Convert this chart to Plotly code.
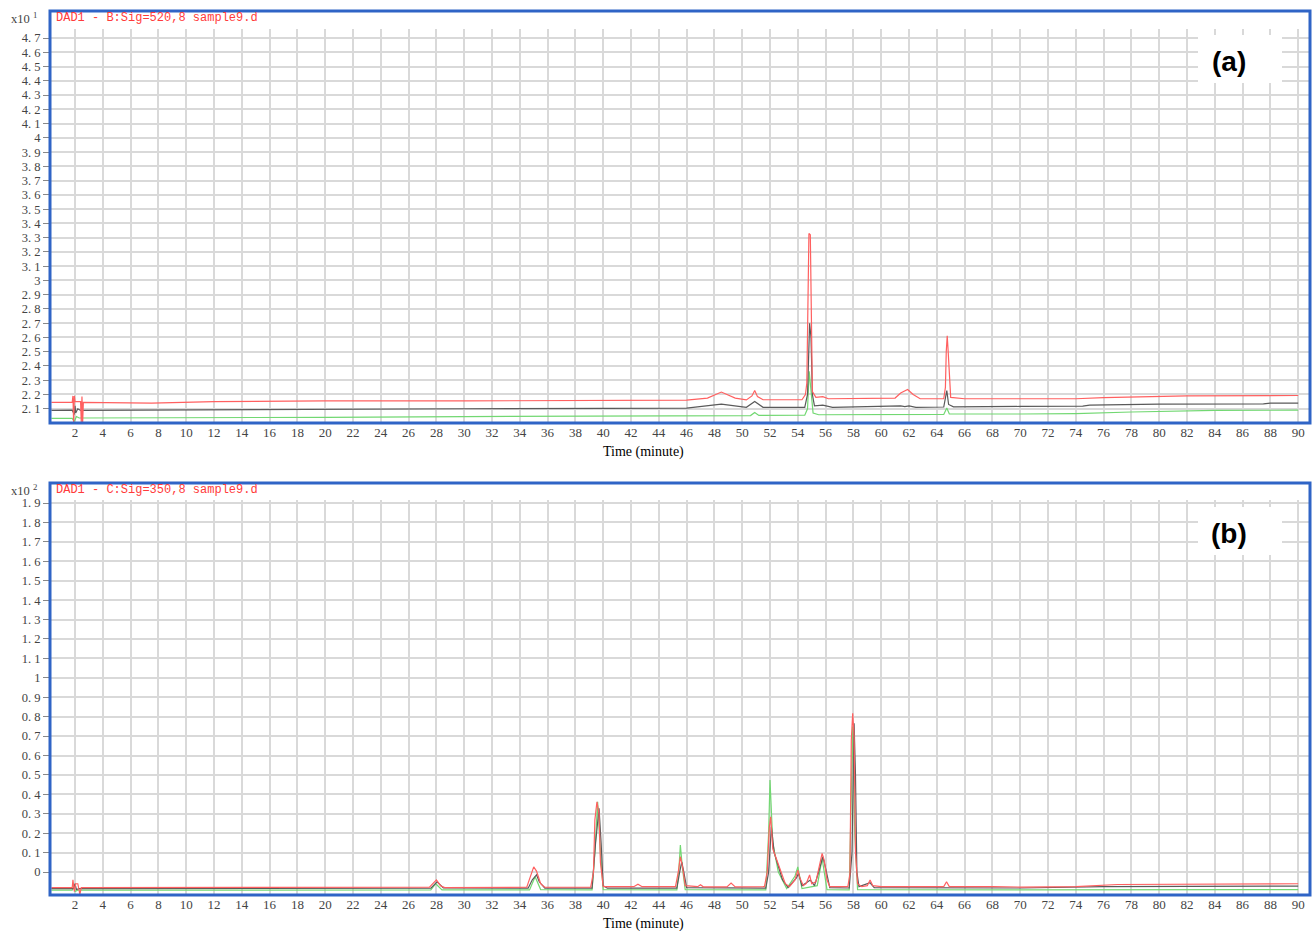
import plotly.graph_objects as go

# ---------------- Panel (a): DAD1 - B:Sig=520,8  (x10^1) ----------------
a_red_t = [0.3, 1.8, 1.85, 1.9, 1.95, 2.0, 2.4, 2.45, 2.5, 2.55, 2.6, 5, 7.5, 12, 20, 30, 40, 46,
           47.5, 48.5, 49.5, 50.3, 50.7, 50.9, 51.1, 51.5, 54.3, 54.55, 54.65, 54.72, 54.8, 54.9,
           54.97, 55.05, 55.3, 55.8, 56.2, 60, 61.0, 61.4, 61.9, 62.3, 62.8, 64.5, 64.62, 64.68,
           64.75, 64.82, 64.88, 65.0, 66, 70, 74, 76, 80, 82, 90]
a_red_v = [2.145, 2.145, 2.19, 2.005, 2.19, 2.15, 2.15, 2.005, 2.185, 2.005, 2.145, 2.145, 2.14,
           2.15, 2.155, 2.155, 2.155, 2.16, 2.175, 2.217, 2.175, 2.162, 2.19, 2.228, 2.185, 2.163,
           2.163, 2.2, 2.28, 2.87, 3.33, 3.32, 2.7, 2.22, 2.18, 2.185, 2.17, 2.17, 2.175, 2.21,
           2.235, 2.2, 2.17, 2.17, 2.25, 2.50, 2.612, 2.50, 2.35, 2.18, 2.17, 2.168, 2.17, 2.178,
           2.185, 2.19, 2.193]

a_blk_t = [0.3, 1.8, 1.95, 2.0, 2.05, 2.2, 2.4, 7.5, 7.6, 20, 30, 40, 46, 48.5, 50.3, 50.9, 51.5,
           54.5, 54.7, 54.85, 54.95, 55.05, 55.2, 55.8, 56.5, 61.4, 61.7, 62.0, 62.5, 64.5, 64.72,
           64.85, 65.2, 70, 74.5, 75, 78, 80, 87.5, 88, 90]
a_blk_v = [2.088, 2.09, 2.06, 2.12, 2.07, 2.1, 2.088, 2.09, 2.095, 2.097, 2.1, 2.102, 2.105, 2.133,
           2.11, 2.151, 2.11, 2.11, 2.2, 2.70, 2.6, 2.2, 2.12, 2.125, 2.11, 2.12, 2.115, 2.12, 2.11,
           2.112, 2.228, 2.13, 2.113, 2.116, 2.118, 2.125, 2.13, 2.132, 2.134, 2.14, 2.14]

a_grn_t = [0.3, 1.8, 1.95, 2.1, 2.3, 5, 10, 20, 30, 40, 46, 50.6, 50.9, 51.2, 54.5, 54.7, 54.82,
           54.95, 55.1, 55.5, 64.5, 64.72, 64.9, 70, 74, 78, 82, 84, 90]
a_grn_v = [2.032, 2.032, 2.01, 2.045, 2.035, 2.035, 2.037, 2.04, 2.045, 2.047, 2.05, 2.052, 2.074,
           2.053, 2.055, 2.1, 2.362, 2.2, 2.07, 2.058, 2.06, 2.105, 2.063, 2.063, 2.066, 2.077,
           2.085, 2.088, 2.09]

# ---------------- Panel (b): DAD1 - C:Sig=350,8  (x10^2) ----------------
b_red_t = [0.3, 1.8, 1.85, 1.95, 2.05, 2.2, 2.35, 2.45, 27.5, 27.9, 28.0, 28.3, 28.6, 34.5, 34.8,
           35.0, 35.2, 35.5, 35.8, 39.1, 39.3, 39.4, 39.55, 39.7, 39.8, 40.0, 42.2, 42.5, 42.8,
           45.2, 45.4, 45.55, 45.7, 45.9, 46.8, 47.0, 47.2, 48.9, 49.2, 49.5, 51.6, 51.8, 51.95,
           52.05, 52.2, 52.5, 52.8, 53.1, 53.4, 53.8, 54.0, 54.15, 54.4, 54.6, 54.85, 55.0, 55.3,
           55.6, 55.75, 55.9, 56.1, 56.3, 57.6, 57.75, 57.85, 57.95, 58.05, 58.15, 58.3, 58.6,
           59.0, 59.2, 59.4, 60, 64.5, 64.7, 64.9, 68, 70, 74, 76, 77, 90]
b_red_v = [-0.08, -0.08, -0.04, -0.10, -0.06, -0.06, -0.115, -0.08, -0.078, -0.045, -0.04, -0.07,
           -0.08, -0.078, -0.02, 0.027, 0.005, -0.06, -0.078, -0.078, 0.0, 0.268, 0.362, 0.30,
           0.05, -0.075, -0.075, -0.062, -0.075, -0.075, 0.0, 0.079, 0.03, -0.07, -0.075, -0.065,
           -0.076, -0.076, -0.057, -0.076, -0.075, 0.0, 0.23, 0.285, 0.12, 0.062, 0.0, -0.06,
           -0.075, -0.04, 0.01, -0.03, -0.07, -0.06, -0.015, -0.06, -0.05, 0.05, 0.096, 0.06,
           -0.04, -0.075, -0.075, -0.01, 0.68, 0.817, 0.70, 0.1, -0.06, -0.075, -0.07, -0.041,
           -0.07, -0.075, -0.075, -0.05, -0.075, -0.075, -0.077, -0.075, -0.07, -0.064, -0.06]

b_blk_t = [0.3, 1.9, 2.0, 2.1, 2.3, 27.6, 28.05, 28.5, 34.6, 34.9, 35.2, 35.4, 35.8, 39.2, 39.45,
           39.7, 39.85, 40.0, 40.3, 45.3, 45.5, 45.65, 45.8, 46.0, 51.7, 51.9, 52.1, 52.3, 52.6,
           52.9, 53.3, 53.9, 54.05, 54.3, 54.9, 55.2, 55.5, 55.8, 56.0, 56.3, 57.7, 57.9, 58.05,
           58.15, 58.25, 58.4, 59.2, 59.5, 70, 76, 90]
b_blk_v = [-0.085, -0.085, -0.06, -0.09, -0.085, -0.083, -0.05, -0.082, -0.083, -0.04, -0.014,
           -0.05, -0.083, -0.083, 0.15, 0.328, 0.15, -0.07, -0.083, -0.083, 0.0, 0.053, 0.0,
           -0.08, -0.083, 0.0, 0.233, 0.10, 0.03, -0.04, -0.08, -0.03, -0.007, -0.07, -0.041,
           -0.07, 0.0, 0.079, 0.02, -0.08, -0.082, 0.1, 0.766, 0.5, 0.0, -0.075, -0.055, -0.08,
           -0.082, -0.075, -0.072]

b_grn_t = [0.3, 1.8, 1.9, 2.0, 2.2, 27.6, 27.95, 28.4, 34.7, 35.1, 35.5, 39.2, 39.4, 39.6, 39.8,
           40.0, 45.3, 45.45, 45.55, 45.7, 45.9, 51.7, 51.9, 52.0, 52.2, 52.6, 53.2, 53.8, 54.0,
           54.3, 55.4, 55.75, 56.1, 57.7, 57.85, 57.95, 58.1, 58.3, 70, 90]
b_grn_v = [-0.093, -0.093, -0.07, -0.10, -0.093, -0.092, -0.06, -0.092, -0.092, -0.024, -0.09,
           -0.092, 0.1, 0.362, 0.1, -0.09, -0.092, 0.02, 0.139, 0.02, -0.09, -0.092, 0.2, 0.474,
           0.15, 0.0, -0.085, -0.02, 0.027, -0.085, -0.07, 0.07, -0.09, -0.092, 0.4, 0.75, 0.2,
           -0.09, -0.092, -0.09]

x_ticks = list(range(2, 92, 2))
a_ticks = [round(2.1 + 0.1 * i, 1) for i in range(27)]
b_ticks = [round(0.1 * i, 1) for i in range(20)]


def tick_text(v):
    s = f"{v:.1f}"
    if s.endswith(".0"):
        return s[:-2]
    return s.replace(".", ".\u00a0")


W, H = 1314, 931
RED, BLK, GRN = "#ff6060", "#5a5a5a", "#72d872"
BLUE = "#2f64c6"
GRID = "#d9d9d9"
SERIF = "Liberation Serif"

# plot areas in pixels: (left, top, right, bottom)
box_a = (50, 11, 1310, 423)
box_b = (50, 483, 1310, 895)


def px_dom(box):
    l, t, r, b = box
    return [l / W, r / W], [(H - b) / H, (H - t) / H]


fig = go.Figure()
for tt, vv, col in [(a_grn_t, a_grn_v, GRN), (a_blk_t, a_blk_v, BLK), (a_red_t, a_red_v, RED)]:
    fig.add_trace(go.Scatter(x=tt, y=vv, mode="lines", line=dict(color=col, width=1.2),
                             xaxis="x", yaxis="y", showlegend=False, hoverinfo="skip"))
for tt, vv, col in [(b_grn_t, b_grn_v, GRN), (b_blk_t, b_blk_v, BLK), (b_red_t, b_red_v, RED)]:
    fig.add_trace(go.Scatter(x=tt, y=vv, mode="lines", line=dict(color=col, width=1.2),
                             xaxis="x2", yaxis="y2", showlegend=False, hoverinfo="skip"))

xa_dom, ya_dom = px_dom(box_a)
xb_dom, yb_dom = px_dom(box_b)

x_common = dict(range=[0.2, 90.85], tickvals=x_ticks, ticktext=[str(v) for v in x_ticks],
                showgrid=True, gridcolor=GRID, gridwidth=2, zeroline=False, showline=False,
                ticks="", tickfont=dict(family=SERIF, size=13, color="#444"), fixedrange=True)
y_common = dict(showgrid=True, gridcolor=GRID, gridwidth=2, zeroline=False, showline=False,
                ticks="outside", ticklen=6, tickcolor="#888", tickwidth=1,
                tickfont=dict(family=SERIF, size=12.5, color="#444"), fixedrange=True)

fig.update_layout(
    width=W, height=H, margin=dict(l=0, r=0, t=0, b=0), autosize=False,
    paper_bgcolor="white", plot_bgcolor="white",
    xaxis=dict(domain=xa_dom, anchor="y", **x_common),
    yaxis=dict(domain=ya_dom, anchor="x", range=[2.0, 4.89], tickvals=a_ticks,
               ticktext=[tick_text(v) for v in a_ticks], **y_common),
    xaxis2=dict(domain=xb_dom, anchor="y2", **x_common),
    yaxis2=dict(domain=yb_dom, anchor="x2", range=[-0.118, 2.003], tickvals=b_ticks,
                ticktext=[tick_text(v) for v in b_ticks], **y_common),
)

shapes = []
annots = []
for box, label, sig, exp, head_px in [
    (box_a, "(a)", "DAD1 - B:Sig=520,8 sample9.d", "1", 18),
    (box_b, "(b)", "DAD1 - C:Sig=350,8 sample9.d", "2", 17),
]:
    l, t, r, b = box
    # white header strip above the grid (no data lives there)
    shapes.append(dict(type="rect", xref="paper", yref="paper",
                       x0=(l + 1) / W, x1=(r - 1) / W, y0=(H - (t + head_px)) / H, y1=(H - t) / H,
                       fillcolor="white", line=dict(width=0), layer="above"))
    # white box behind the panel label
    shapes.append(dict(type="rect", xref="paper", yref="paper",
                       x0=1198 / W, x1=1282 / W, y0=(H - (t + 72)) / H, y1=(H - (t + 24)) / H,
                       fillcolor="white", line=dict(width=0), layer="above"))
    # blue frame
    shapes.append(dict(type="rect", xref="paper", yref="paper",
                       x0=l / W, x1=r / W, y0=(H - b) / H, y1=(H - t) / H,
                       line=dict(color=BLUE, width=3), layer="above"))
    annots.append(dict(text=f"<b>{label}</b>", xref="paper", yref="paper", x=1229 / W,
                       y=(H - (t + 50)) / H, showarrow=False,
                       font=dict(family="Liberation Sans", size=28, color="black"),
                       xanchor="center", yanchor="middle"))
    annots.append(dict(text=sig, xref="paper", yref="paper", x=54 / W, y=(H - (t + 7)) / H,
                       showarrow=False, font=dict(family="Liberation Mono", size=12, color="#ff3b3b"),
                       xanchor="left", yanchor="middle"))
    annots.append(dict(text=f"x10 <sup>{exp}</sup>", xref="paper", yref="paper", x=9 / W,
                       y=(H - (t + 7)) / H, showarrow=False,
                       font=dict(family=SERIF, size=12.5, color="#444"),
                       xanchor="left", yanchor="middle"))
    annots.append(dict(text="Time (minute)", xref="paper", yref="paper", x=643 / W,
                       y=(H - (b + 29)) / H, showarrow=False,
                       font=dict(family=SERIF, size=14, color="black"),
                       xanchor="center", yanchor="middle"))

fig.update_layout(shapes=shapes, annotations=annots)
fig.write_html("out.html")
